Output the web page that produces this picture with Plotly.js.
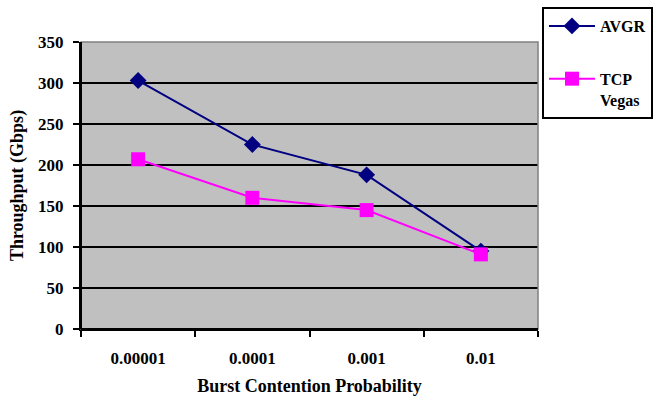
<!DOCTYPE html>
<html>
<head>
<meta charset="utf-8">
<script src="https://cdn.plot.ly/plotly-3.0.1.min.js"></script>
<style>html,body{margin:0;padding:0;background:#fff;}#chart{width:662px;height:399px;}</style>
</head>
<body>
<div id="chart"></div>
<script>
const categories = ["0.00001", "0.0001", "0.001", "0.01"];
const avgrValues = [303, 225, 188, 95];
const vegasValues = [207, 160, 145, 91];
const yTickValues = [0, 50, 100, 150, 200, 250, 300, 350];

const FONT = "'Times New Roman', 'Liberation Serif', serif";

const traces = [
  {
    x: categories, y: avgrValues, name: "AVGR", type: "scatter", mode: "lines+markers",
    line: {color: "#000080", width: 2},
    marker: {symbol: "diamond", size: 13, color: "#000080"},
    legendgroup: "a"
  },
  {
    x: categories, y: vegasValues, name: "TCP<br>Vegas", type: "scatter", mode: "lines+markers",
    line: {color: "#FF00FF", width: 2},
    marker: {symbol: "square", size: 14, color: "#FF00FF"},
    legendgroup: "b"
  }
];

const layout = {
  width: 662, height: 399,
  margin: {l: 81, r: 124, t: 42, b: 70, pad: 0, autoexpand: false},
  paper_bgcolor: "#ffffff",
  plot_bgcolor: "#C0C0C0",
  font: {family: FONT, color: "#000", size: 17, weight: "bold"},
  xaxis: {
    type: "category",
    range: [-0.5, 3.5],
    tickson: "boundaries",
    ticks: "outside", ticklen: 6, tickwidth: 2, tickcolor: "#000",
    showline: true, linecolor: "#000", linewidth: 2,
    showgrid: false, zeroline: false,
    tickfont: {family: FONT, size: 17, color: "#000", weight: "bold"},
    ticklabelstandoff: 13,
    title: {text: "Burst Contention Probability", font: {family: FONT, size: 18, color: "#000", weight: "bold"}, standoff: 12}
  },
  yaxis: {
    range: [0, 350],
    tickvals: yTickValues,
    ticks: "outside", ticklen: 6, tickwidth: 2, tickcolor: "#000",
    showline: true, linecolor: "#000", linewidth: 2,
    showgrid: true, gridcolor: "#000", gridwidth: 2,
    zeroline: false,
    tickfont: {family: FONT, size: 17, color: "#000", weight: "bold"},
    ticklabelstandoff: 6,
    title: {text: "Throughput (Gbps)", font: {family: FONT, size: 18, color: "#000", weight: "bold"}, standoff: 10}
  },
  showlegend: true,
  legend: {
    xref: "container", yref: "container",
    x: 0.8187, xanchor: "left",
    y: 0.9825, yanchor: "top",
    bgcolor: "#ffffff",
    bordercolor: "#000", borderwidth: 2,
    font: {family: FONT, size: 16, color: "#000", weight: "bold"},
    traceorder: "grouped",
    tracegroupgap: 29,
    valign: "top",
    itemwidth: 46
  },
  shapes: [
    {type: "rect", xref: "paper", yref: "paper", x0: 0, x1: 1, y0: 0, y1: 1,
     line: {color: "#808080", width: 1.5}, fillcolor: "rgba(0,0,0,0)", layer: "above"},
    {type: "line", xref: "paper", yref: "paper", x0: 0, x1: 0, y0: 0, y1: 1,
     line: {color: "#000", width: 2}, layer: "above"},
    {type: "line", xref: "paper", yref: "paper", x0: 0, x1: 1, y0: 0, y1: 0,
     line: {color: "#000", width: 2}, layer: "above"}
  ]
};

Plotly.newPlot("chart", traces, layout, {displayModeBar: false, staticPlot: true});
</script>
</body>
</html>
